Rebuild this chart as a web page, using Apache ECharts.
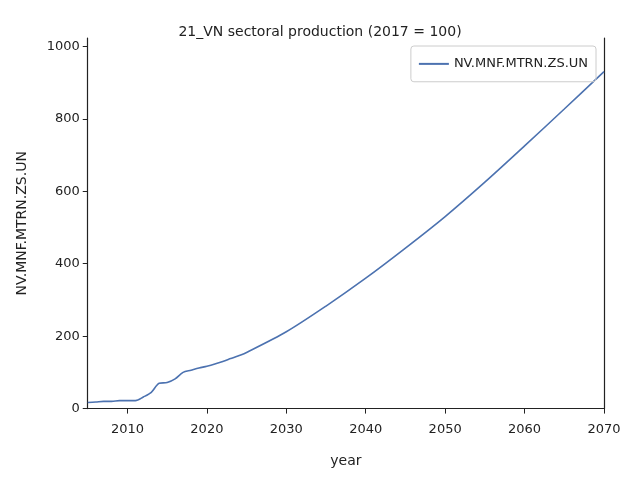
<!DOCTYPE html><html><head><script src="https://cdn.jsdelivr.net/npm/echarts@6/dist/echarts.min.js"></script></head><body style="margin:0"><div id="c" style="width:640px;height:480px"></div><script>
const years=[2005,2006,2007,2008,2009,2010,2011,2012,2013,2014,2015,2016,2017,2018,2019,2020,2021,2022,2023,2024,2025,2030,2035,2040,2045,2050,2055,2060,2065,2070];
const values=[17,18,20,20,22,22,22,32,45,70,72,82,100,106,112,117,123,130,138,146,155,212,283,360,443,530,625,725,827,930];
const xticks=[2010,2020,2030,2040,2050,2060,2070];
const ch=echarts.init(document.getElementById('c'));
const f='DejaVu Sans';
const ax={lineStyle:{color:'#222',width:1.2}};
ch.setOption({animation:false,textStyle:{fontFamily:f},
title:{text:'21_VN sectoral production (2017 = 100)',left:'center',top:13,textStyle:{fontSize:14,fontWeight:'normal',color:'#222',fontFamily:f}},
legend:{right:44,top:46,orient:'vertical',borderColor:'#ccc',borderWidth:1,borderRadius:3,padding:[5,8],itemWidth:30,itemHeight:2,icon:'rect',textStyle:{fontSize:13,color:'#222'},data:['NV.MNF.MTRN.ZS.UN']},
grid:{left:86,right:36,top:38,bottom:66},
xAxis:[{type:'value',min:2005,max:2070,name:'year',nameLocation:'middle',nameGap:32,nameTextStyle:{fontSize:14,color:'#222'},
axisLabel:{color:'#222',fontSize:13,customValues:xticks,formatter:v=>String(v)},axisTick:{customValues:xticks,length:5,lineStyle:{color:'#222'}},axisLine:ax,splitLine:{show:false}},
{type:'value',position:'top',min:2005,max:2070,axisLabel:{show:false},axisTick:{show:false},axisLine:ax,splitLine:{show:false}}],
yAxis:[{type:'value',min:0,max:1023,interval:200,name:'NV.MNF.MTRN.ZS.UN',nameLocation:'middle',nameGap:52,nameTextStyle:{fontSize:14,color:'#222'},
axisLabel:{color:'#222',fontSize:13,showMaxLabel:false,formatter:v=>String(v)},axisTick:{show:true,length:5,lineStyle:{color:'#222'}},axisLine:Object.assign({show:true},ax),splitLine:{show:false}},
{type:'value',position:'right',min:0,max:1023,axisLabel:{show:false},axisTick:{show:false},axisLine:Object.assign({show:true},ax),splitLine:{show:false}}],
series:[{name:'NV.MNF.MTRN.ZS.UN',type:'line',smooth:0.3,showSymbol:false,data:years.map((y,i)=>[y,values[i]]),lineStyle:{color:'#4c72b0',width:1.6},itemStyle:{color:'#4c72b0'}}]
});
</script></body></html>
